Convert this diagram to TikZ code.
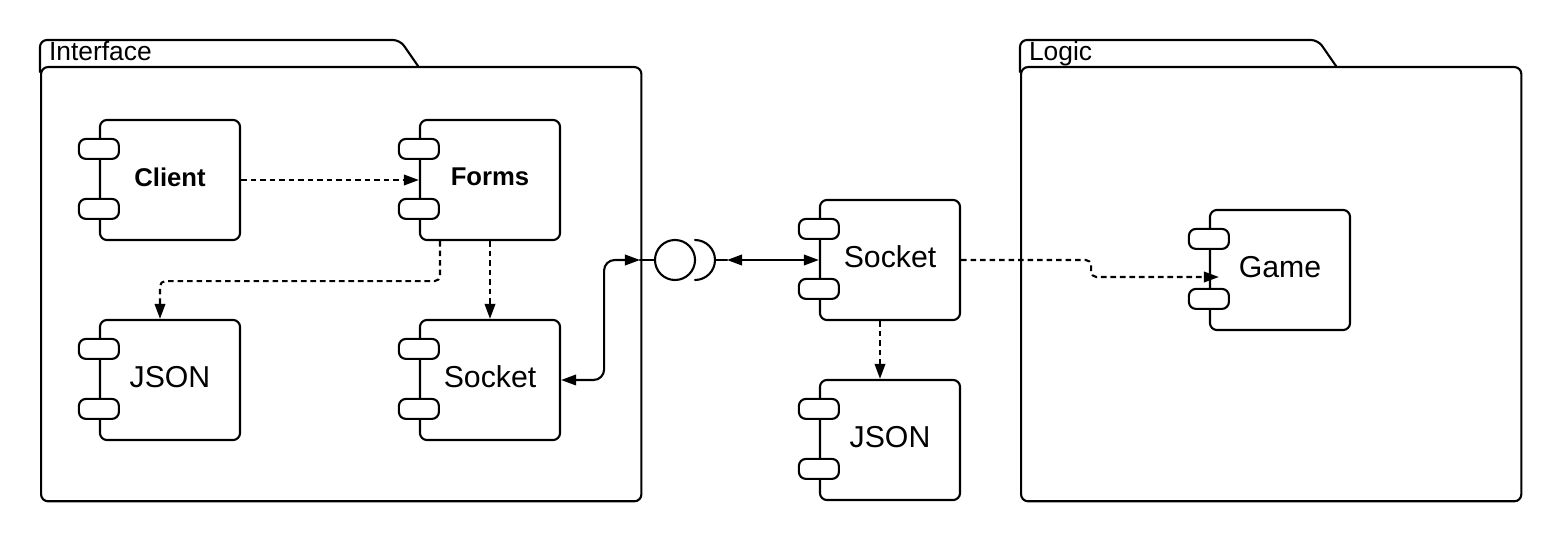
\documentclass[tikz,border=0pt]{standalone}
\usepackage{fontspec}
\setmainfont{Liberation Sans}
\usetikzlibrary{arrows.meta,positioning}

\begin{document}
\begin{tikzpicture}[x=0.01cm, y=-0.01cm, line join=round, line cap=round, line width=0.6pt,
    >={Triangle[length=4.3pt,width=3pt]},
    comp/.style={draw, rounded corners=2pt, minimum width=1.4cm, minimum height=1.2cm, inner sep=0pt, text depth=1.7pt},
    port/.style={draw, fill=white, rounded corners=2pt},
    pkg/.style={draw, rounded corners=2pt, anchor=north west, inner sep=0pt},
    pkglabel/.style={anchor=base west, inner sep=0pt, font=\fontsize{7.5}{9}\selectfont},
    dep/.style={->, line cap=butt, dash pattern=on 1.6pt off 1.1pt, rounded corners=1.5pt},
    bold/.style={font=\fontsize{7.3}{9}\selectfont\bfseries},
    big/.style={font=\fontsize{8.6}{10}\selectfont}]
    \useasboundingbox (0,0) rectangle (1560,540);
    % packages
    \node[pkg, minimum width=6cm, minimum height=4.34cm] (iface) at (40,66) {};
    \draw[rounded corners=2pt] ([shift={(0,6)}]iface.north west) -- ++(0,-32) -- ++(360,0) -- ++(18,26);
    \node[pkglabel] (ifaceT) at (48,61) {Interface};
    \node[pkg, minimum width=5cm, minimum height=4.34cm] (logic) at (1020,66) {};
    \draw[rounded corners=2pt] ([shift={(0,6)}]logic.north west) -- ++(0,-32) -- ++(298,0) -- ++(18,26);
    \node[pkglabel] (logicT) at (1028,61) {Logic};
    % components
    \node[comp, bold] (client) at (170,180) {Client};
    \node[comp, bold] (forms) at (490,180) {Forms};
    \node[comp, big] (jsonA) at (170,380) {JSON};
    \node[comp, big] (sockA) at (490,380) {Socket};
    \node[comp, big] (sockB) at (890,260) {Socket};
    \node[comp, big] (jsonB) at (890,440) {JSON};
    \node[comp, big] (game) at (1280,270) {Game};
    \foreach \c in {client,forms,jsonA,sockA,sockB,jsonB,game}
        \foreach \dy in {20,80}
            \draw[port] ([shift={(-20,\dy)}]\c.north west) rectangle ++(40,20);
    % interface
    \node[draw, circle, minimum size=0.4cm, inner sep=0pt] (ball) at (675,260) {};
    \draw (695,240) arc[start angle=-90, end angle=90, radius=20];
    \coordinate (ifR) at (640,260);
    \coordinate (cupR) at (727,260);
    % connectors
    \draw[dep] (client.east) -- (forms.west);
    \draw[dep] ([shift={(-50,0)}]forms.south) -- ++(0,40) -| ([shift={(-10,0)}]jsonA.north);
    \draw[dep] (forms.south) -- (sockA.north);
    \draw[<->, rounded corners=3pt] (sockA.east) -- ++(43,0) |- (ifR);
    \draw (ifR) -- (ball.west);
    \draw (715,260) -- (cupR);
    \draw[<->] (cupR) -- (sockB.west);
    \draw[dep] ([shift={(-10,0)}]sockB.south) -- ([shift={(-10,0)}]jsonB.north);
    \draw[dep] (sockB.east) -- ++(130,0) |- ([shift={(10,7)}]game.west);
\end{tikzpicture}
\end{document}
